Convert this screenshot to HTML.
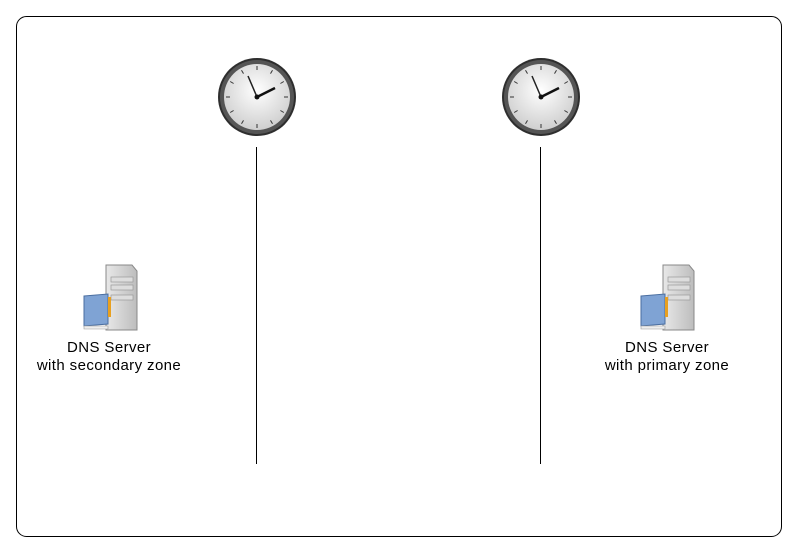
<!DOCTYPE html>
<html><head><style>
body{margin:0;background:#fff;width:798px;height:553px;overflow:hidden;font-family:"Liberation Sans",sans-serif;}
</style></head><body>
<svg width="798" height="553" xmlns="http://www.w3.org/2000/svg">
<defs>
<radialGradient id="face" cx="50%" cy="40%" r="60%"><stop offset="0" stop-color="#fff"/><stop offset="1" stop-color="#cfcfcf"/></radialGradient>
<linearGradient id="tower" x1="0" x2="1"><stop offset="0" stop-color="#e8e8e8"/><stop offset="1" stop-color="#bdbdbd"/></linearGradient>
<g id="clock">
<circle r="39" fill="#2e2e2e"/>
<circle r="37" fill="#555"/>
<circle r="33" fill="url(#face)"/>
<g stroke="#333" stroke-width="1">
<line x1="0" y1="-31" x2="0" y2="-27"/><line x1="0" y1="31" x2="0" y2="27"/>
<line x1="-31" y1="0" x2="-27" y2="0"/><line x1="31" y1="0" x2="27" y2="0"/>
<line x1="15.5" y1="-26.8" x2="13.5" y2="-23.4"/><line x1="26.8" y1="-15.5" x2="23.4" y2="-13.5"/>
<line x1="26.8" y1="15.5" x2="23.4" y2="13.5"/><line x1="15.5" y1="26.8" x2="13.5" y2="23.4"/>
<line x1="-15.5" y1="26.8" x2="-13.5" y2="23.4"/><line x1="-26.8" y1="15.5" x2="-23.4" y2="13.5"/>
<line x1="-26.8" y1="-15.5" x2="-23.4" y2="-13.5"/><line x1="-15.5" y1="-26.8" x2="-13.5" y2="-23.4"/>
</g>
<line x1="0" y1="0" x2="-9" y2="-21" stroke="#222" stroke-width="1.5"/>
<line x1="0" y1="0" x2="18" y2="-9" stroke="#111" stroke-width="2.5"/>
<circle r="2.5" fill="#111"/>
</g>
<g id="server">
<path d="M36 10 h26 l5 6 v59 h-31 z" fill="url(#tower)" stroke="#888"/>
<rect x="41" y="22" width="22" height="5" fill="#ddd" stroke="#999" stroke-width=".7"/>
<rect x="41" y="30" width="22" height="5" fill="#ddd" stroke="#999" stroke-width=".7"/>
<rect x="41" y="40" width="22" height="5" fill="#ddd" stroke="#999" stroke-width=".7"/>
<circle cx="39" cy="46" r="1.5" fill="#d22"/>
<path d="M14 41 l24 -2 v30 l-24 2 z" fill="#7fa3d4" stroke="#4a6ea0"/>
<path d="M14 71 h24 v3 h-24 z" fill="#eee" stroke="#999" stroke-width=".6"/>
<rect x="38" y="42" width="3" height="20" fill="#e8a020"/>
</g>
</defs>
<rect x="16.5" y="16.5" width="765" height="520" rx="10" fill="#fff" stroke="#000" stroke-width="1"/>
<use href="#clock" x="257" y="97"/>
<use href="#clock" x="541" y="97"/>
<line x1="256.5" y1="147" x2="256.5" y2="464" stroke="#000"/>
<line x1="540.5" y1="147" x2="540.5" y2="464" stroke="#000"/>
<use href="#server" x="70" y="255"/>
<use href="#server" x="627" y="255"/>
<g font-size="15" letter-spacing="0.4" fill="#000" text-anchor="middle" font-family="Liberation Sans, sans-serif">
<text x="109" y="352">DNS Server</text>
<text x="109" y="370">with secondary zone</text>
<text x="667" y="352">DNS Server</text>
<text x="667" y="370">with primary zone</text>
</g>
</svg>
</body></html>
